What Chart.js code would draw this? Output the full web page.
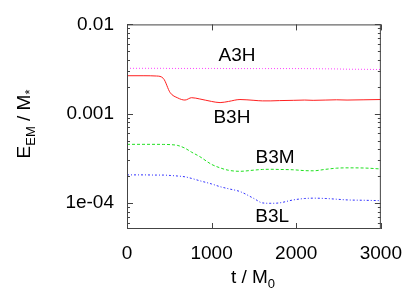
<!DOCTYPE html>
<html>
<head>
<meta charset="utf-8">
<script src="https://cdn.jsdelivr.net/npm/chart.js@4"></script>
<style>
  html, body { margin: 0; padding: 0; background: #fff; }
  #wrap { width: 415px; height: 291px; }
</style>
</head>
<body>
<div id="wrap"><canvas id="chart" width="415" height="291"></canvas></div>
<script>
// time samples (t / M0)
const times = [0, 200, 350, 430, 510, 600, 685, 764, 860, 1000, 1100, 1200, 1335, 1500, 1600, 1700, 1800, 1965, 2100, 2200, 2350, 2477, 2600, 2800, 3000];

// E_EM / M* for each run
const a3h = [0.00322, 0.00322, 0.00322, 0.00322, 0.00321, 0.00321, 0.00321, 0.00321, 0.00321, 0.00321, 0.00321, 0.0032, 0.0032, 0.0032, 0.0032, 0.0032, 0.0032, 0.0032, 0.0032, 0.00319, 0.00318, 0.00317, 0.00315, 0.00314, 0.00312];
const b3h = [0.00266, 0.00266, 0.00264, 0.00248, 0.00172, 0.0015, 0.00142, 0.00151, 0.00146, 0.00137, 0.00133, 0.00137, 0.00144, 0.00141, 0.00139, 0.00139, 0.0014, 0.00141, 0.00142, 0.00141, 0.00142, 0.00143, 0.00142, 0.00143, 0.00144];
const b3m = [0.000453, 0.000453, 0.000453, 0.000452, 0.00045, 0.00044, 0.00041, 0.00037, 0.00033, 0.00027, 0.000247, 0.000232, 0.000226, 0.000233, 0.000237, 0.000238, 0.000237, 0.000235, 0.00023, 0.000229, 0.000238, 0.000245, 0.000247, 0.000246, 0.00024];
const b3l = [0.000206, 0.000206, 0.000205, 0.000205, 0.000203, 0.0002, 0.000196, 0.000188, 0.000177, 0.000163, 0.000152, 0.000144, 0.000134, 0.000112, 0.0001, 0.000099, 0.0001, 0.000108, 0.000112, 0.000113, 0.000112, 0.00011, 0.000108, 0.000107, 0.000106];

// axis ticks
const xTicks = [0, 1000, 2000, 3000];
const yTicks = [1e-4, 1e-3, 1e-2];
const yTickLabels = ['1e-04', '0.001', '0.01'];

// curve labels: [text, t, value]
const curveLabels = [
  ['A3H', 1300, 0.0044],
  ['B3H', 1240, 0.00091],
  ['B3M', 1750, 0.000318],
  ['B3L', 1715, 0.0000698]
];

const FONT = '"Liberation Sans", Arial, sans-serif';

function pts(vals) {
  return times.map((t, i) => ({ x: t, y: vals[i] }));
}

const frame = {
  id: 'frame',
  afterDraw(chart) {
    const ctx = chart.ctx;
    const a = chart.chartArea;
    const xs = chart.scales.x, ys = chart.scales.y;
    ctx.save();
    ctx.strokeStyle = '#444';
    ctx.lineWidth = 1;
    ctx.strokeRect(a.left + 0.5, a.top + 0.5, a.right - a.left - 1, a.bottom - a.top - 1);
    ctx.beginPath();
    // y ticks, majors and log minors, both sides
    for (let e = -5; e <= -2; e++) {
      for (let m = 1; m <= 9; m++) {
        const v = m * Math.pow(10, e);
        if (v < ys.min || v > ys.max) continue;
        const y = Math.round(ys.getPixelForValue(v)) + 0.5;
        const len = m === 1 ? 6 : 3;
        ctx.moveTo(a.left, y); ctx.lineTo(a.left + len, y);
        ctx.moveTo(a.right, y); ctx.lineTo(a.right - len, y);
      }
    }
    // x ticks, bottom and top
    xTicks.forEach(t => {
      const x = Math.round(xs.getPixelForValue(t)) + 0.5;
      ctx.moveTo(x, a.bottom); ctx.lineTo(x, a.bottom - 6);
      ctx.moveTo(x, a.top); ctx.lineTo(x, a.top + 6);
    });
    ctx.stroke();

    // labels next to the curves
    ctx.fillStyle = '#000';
    ctx.font = '19px ' + FONT;
    ctx.textAlign = 'center';
    ctx.textBaseline = 'middle';
    curveLabels.forEach(([txt, t, v]) => {
      ctx.fillText(txt, xs.getPixelForValue(t), ys.getPixelForValue(v));
    });

    // x axis title: t / M0
    ctx.textAlign = 'left';
    ctx.textBaseline = 'alphabetic';
    const main = '19px ' + FONT, sub = '13px ' + FONT;
    ctx.font = main;
    const w1 = ctx.measureText('t / M').width;
    ctx.font = sub;
    const w2 = ctx.measureText('0').width;
    let x0 = 253 - (w1 + w2) / 2;
    ctx.font = main;
    ctx.fillText('t / M', x0, 283);
    ctx.font = sub;
    ctx.fillText('0', x0 + w1, 288);

    // y axis title: E_EM / M*
    const parts = [['E', main, 0], ['EM', sub, 5], [' / M', main, 0], ['*', sub, 4]];
    let total = 0;
    parts.forEach(p => { ctx.font = p[1]; total += ctx.measureText(p[0]).width; });
    ctx.translate(30, 124 + total / 2);
    ctx.rotate(-Math.PI / 2);
    let cx = 0;
    parts.forEach(p => {
      ctx.font = p[1];
      ctx.fillText(p[0], cx, p[2]);
      cx += ctx.measureText(p[0]).width;
    });
    ctx.restore();
  }
};

new Chart(document.getElementById('chart'), {
  type: 'line',
  data: {
    datasets: [
      { label: 'A3H', data: pts(a3h), borderColor: '#ff40ff', borderDash: [1, 2] },
      { label: 'B3H', data: pts(b3h), borderColor: '#ff2020' },
      { label: 'B3M', data: pts(b3m), borderColor: '#20e020', borderDash: [3, 2] },
      { label: 'B3L', data: pts(b3l), borderColor: '#3030ff', borderDash: [2, 2, 1, 2] }
    ]
  },
  options: {
    responsive: false,
    animation: false,
    devicePixelRatio: 1,
    layout: { padding: { top: 24, right: 34, left: 0, bottom: 0 } },
    elements: {
      point: { radius: 0 },
      line: { borderWidth: 1, cubicInterpolationMode: 'monotone' }
    },
    plugins: { legend: { display: false }, tooltip: { enabled: false } },
    scales: {
      x: {
        type: 'linear',
        min: 0,
        max: 3000,
        grid: { display: false, drawTicks: false },
        border: { display: false },
        afterBuildTicks: s => { s.ticks = xTicks.map(v => ({ value: v })); },
        afterFit: s => { s.height = 62; },
        ticks: {
          color: '#000',
          padding: 13,
          maxRotation: 0,
          font: { family: FONT, size: 19 },
          callback: v => String(v)
        }
      },
      y: {
        type: 'logarithmic',
        min: 5.1e-5,
        max: 0.01,
        grid: { display: false, drawTicks: false },
        border: { display: false },
        afterBuildTicks: s => { s.ticks = yTicks.map(v => ({ value: v })); },
        afterFit: s => { s.width = 127; },
        ticks: {
          color: '#000',
          padding: 13,
          font: { family: FONT, size: 19 },
          callback: v => yTickLabels[yTicks.findIndex(t => Math.abs(t - v) / t < 1e-6)] || ''
        }
      }
    }
  },
  plugins: [frame]
});
</script>
</body>
</html>
